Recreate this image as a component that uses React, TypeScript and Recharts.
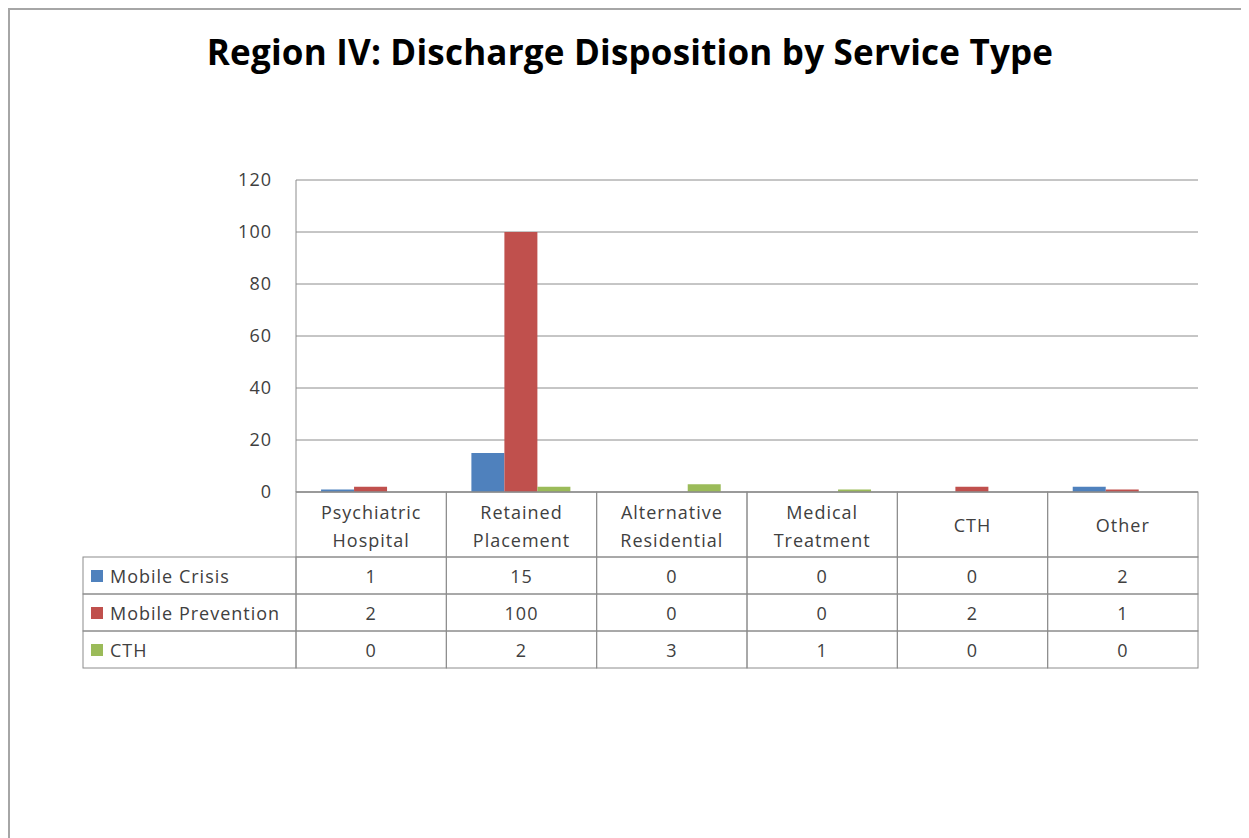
import React from 'react';
import { BarChart, Bar, XAxis, YAxis, CartesianGrid } from 'recharts';

const categories = ['Psychiatric Hospital', 'Retained Placement', 'Alternative Residential', 'Medical Treatment', 'CTH', 'Other'];
const mobileCrisis = [1, 15, 0, 0, 0, 2];
const mobilePrevention = [2, 100, 0, 0, 2, 1];
const cth = [0, 2, 3, 1, 0, 0];
const yTicks = [0, 20, 40, 60, 80, 100, 120];

const seriesList = [
  { key: 'mobileCrisis', name: 'Mobile Crisis', values: mobileCrisis, color: '#4F81BD' },
  { key: 'mobilePrevention', name: 'Mobile Prevention', values: mobilePrevention, color: '#C0504D' },
  { key: 'cth', name: 'CTH', values: cth, color: '#9BBB59' },
];

const data = categories.map((name, i) => {
  const row: Record<string, any> = { name };
  seriesList.forEach(s => { row[s.key] = s.values[i]; });
  return row;
});

const W = 1241;
const H = 830;
const PLOT_LEFT = 288;
const PLOT_W = 902;
const BAND = PLOT_W / categories.length;
const HEADER_H = 65;
const ROW_H = 37;
const LEGEND_W = 213;
const LINE = '#8c8c8c';
const TEXT = '#404040';
const FONT = '"Open Sans", sans-serif';
const FS = 18;
const LS = 1;

const TableTick = (props: any) => {
  const { x, y, payload, index } = props;
  const left = x - BAND / 2;
  const words = String(payload.value).split(' ');
  const i = payload.index ?? index;
  return (
    <g fontFamily={FONT} fontSize={FS} fill={TEXT} letterSpacing={LS}>
      <rect x={left} y={y} width={BAND} height={HEADER_H} fill="none" stroke={LINE} />
      {words.length > 1 ? (
        <>
          <text x={x} y={y + 20} textAnchor="middle" dominantBaseline="central">{words[0]}</text>
          <text x={x} y={y + 48} textAnchor="middle" dominantBaseline="central">{words.slice(1).join(' ')}</text>
        </>
      ) : (
        <text x={x} y={y + 33} textAnchor="middle" dominantBaseline="central">{words[0]}</text>
      )}
      {seriesList.map((s, r) => {
        const top = y + HEADER_H + r * ROW_H;
        return (
          <g key={s.key}>
            <rect x={left} y={top} width={BAND} height={ROW_H} fill="none" stroke={LINE} />
            <text x={x} y={top + ROW_H / 2} textAnchor="middle" dominantBaseline="central">{s.values[i]}</text>
            {index === 0 && (
              <>
                <rect x={left - LEGEND_W} y={top} width={LEGEND_W} height={ROW_H} fill="none" stroke={LINE} />
                <rect x={left - LEGEND_W + 8} y={top + 13} width={12} height={12} fill={s.color} />
                <text x={left - LEGEND_W + 27} y={top + ROW_H / 2} dominantBaseline="central">{s.name}</text>
              </>
            )}
          </g>
        );
      })}
    </g>
  );
};

export default function App() {
  return (
    <div style={{ position: 'relative', width: W, height: H, overflow: 'hidden', background: '#fff' }}>
      <div style={{ position: 'absolute', left: 0, top: 0, width: W + 20, height: H + 20, borderLeft: '2px solid #a6a6a6', borderTop: '2px solid #a6a6a6' }} />
      <div style={{ position: 'absolute', left: 0, width: 1244, top: 26, textAlign: 'center', fontFamily: FONT, fontWeight: 700, fontSize: 35, lineHeight: '35px', letterSpacing: 0.2, color: '#000' }}>
        Region IV: Discharge Disposition by Service Type
      </div>
      <div style={{ position: 'absolute', left: 0, top: 0 }}>
        <BarChart
          width={W}
          height={H}
          data={data}
          margin={{ top: 172, right: W - PLOT_LEFT - PLOT_W, bottom: H - 172 - 312 - 30, left: PLOT_LEFT - 60 }}
          barCategoryGap="16.67%"
          barGap={0}
        >
          <CartesianGrid vertical={false} stroke={LINE} />
          <XAxis
            dataKey="name"
            height={30}
            interval={0}
            tickLine={false}
            tickSize={0}
            tickMargin={0}
            axisLine={{ stroke: LINE }}
            tick={(p: any) => <TableTick {...p} />}
          />
          <YAxis
            width={60}
            domain={[0, 120]}
            ticks={yTicks}
            tickLine={false}
            tickSize={0}
            tickMargin={24}
            axisLine={{ stroke: LINE }}
            tick={{ fontFamily: FONT, fontSize: FS, fill: TEXT, letterSpacing: LS }}
          />
          {seriesList.map(s => (
            <Bar key={s.key} dataKey={s.key} name={s.name} fill={s.color} isAnimationActive={false} />
          ))}
        </BarChart>
      </div>
    </div>
  );
}
